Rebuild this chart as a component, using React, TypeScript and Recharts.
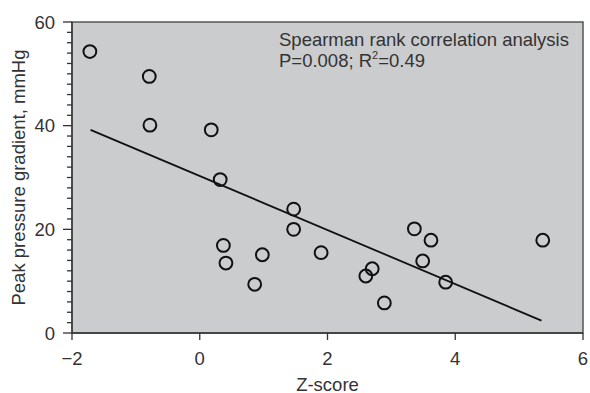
import React from "react";
import {
  ScatterChart,
  Scatter,
  XAxis,
  YAxis,
  ReferenceArea,
  ReferenceLine,
} from "recharts";

// one entry per patient: Z-score vs peak pressure gradient (mmHg)
const zScore = [
  -1.72, -0.79, -0.78, 0.18, 0.32, 0.37, 0.41, 0.98, 0.86, 1.47, 1.47, 1.9,
  3.36, 3.62, 5.37, 3.49, 2.7, 2.6, 2.89, 3.85,
];
const peakGradient = [
  54.3, 49.5, 40.1, 39.2, 29.6, 16.9, 13.5, 15.1, 9.4, 23.9, 20.0, 15.5, 20.1,
  17.9, 17.9, 13.9, 12.4, 11.0, 5.8, 9.8,
];

// end points of the fitted line
const fitX = [-1.71, 5.35];
const fitY = [39.2, 2.4];

const xTicks = [-2, 0, 2, 4, 6];
const yTicks = [
  0, 2, 4, 6, 8, 10, 12, 14, 16, 18, 20, 22, 24, 26, 28, 30, 32, 34, 36, 38,
  40, 42, 44, 46, 48, 50, 52, 54, 56, 58, 60,
];
const yLabelled = [0, 20, 40, 60];

const FONT = '"Liberation Sans", Arial, Helvetica, sans-serif';
const TEXT = "#333";

const points = zScore.map((z, i) => ({ z, g: peakGradient[i] }));

const YTick = (props: any) => {
  const { x, y, payload } = props;
  const major = yLabelled.includes(payload.value);
  return (
    <g>
      <line
        x1={x - (major ? 9 : 5)}
        x2={x}
        y1={y}
        y2={y}
        stroke="#333"
        strokeWidth={1.3}
      />
      {major && (
        <text
          x={x - 17}
          y={y}
          textAnchor="end"
          dominantBaseline="central"
          fontFamily={FONT}
          fontSize={18.5}
          fill={TEXT}
        >
          {payload.value}
        </text>
      )}
    </g>
  );
};

const YTitle = (props: any) => {
  const vb = props.viewBox;
  const x = vb.x + 18;
  const y = vb.y + vb.height / 2;
  return (
    <text
      x={x}
      y={y}
      transform={`rotate(-90 ${x} ${y})`}
      textAnchor="middle"
      dominantBaseline="central"
      fontFamily={FONT}
      fontSize={18.5}
      fill={TEXT}
    >
      Peak pressure gradient, mmHg
    </text>
  );
};

const XTitle = (props: any) => {
  const vb = props.viewBox;
  return (
    <text
      x={vb.x + vb.width / 2}
      y={vb.y + 51}
      textAnchor="middle"
      dominantBaseline="central"
      fontFamily={FONT}
      fontSize={18.5}
      fill={TEXT}
    >
      Z-score
    </text>
  );
};

const Annotation = (props: any) => {
  const vb = props.viewBox;
  const x = vb.x + 207;
  return (
    <g fontFamily={FONT} fontSize={18.5} fill={TEXT}>
      <text x={x} y={vb.y + 24}>
        Spearman rank correlation analysis
      </text>
      <text x={x} y={vb.y + 44.5}>
        P=0.008; R<tspan fontSize={11} dy={-8}>2</tspan>
        <tspan dy={8}>=0.49</tspan>
      </text>
    </g>
  );
};

const Ring = (props: any) => (
  <circle
    cx={props.cx}
    cy={props.cy}
    r={6.4}
    fill="none"
    stroke="#111"
    strokeWidth={2}
  />
);

export default function App() {
  return (
    <div style={{ position: "absolute", left: 0, top: 0 }}>
      <ScatterChart
        width={590}
        height={393}
        margin={{ top: 22, right: 7, bottom: 0, left: 0 }}
      >
        <XAxis
          dataKey="z"
          type="number"
          domain={[-2, 6]}
          ticks={xTicks}
          interval={0}
          tickSize={7}
          tickMargin={12}
          height={60}
          stroke="#333"
          strokeWidth={1.3}
          tick={{ fontFamily: FONT, fontSize: 18.5, fill: TEXT }}
          tickFormatter={(v: number) => String(v).replace("-", "\u2212")}
          label={<XTitleWrap />}
        />
        <YAxis
          dataKey="g"
          type="number"
          domain={[0, 60]}
          ticks={yTicks}
          interval={0}
          width={72}
          tickSize={0}
          tickMargin={0}
          tickLine={false}
          stroke="#333"
          strokeWidth={1.3}
          tick={<YTick />}
          label={<YTitleWrap />}
        />
        <ReferenceArea
          x1={-2}
          x2={6}
          y1={0}
          y2={60}
          fill="#cbccce"
          fillOpacity={1}
          stroke="#555"
          strokeWidth={1.5}
          label={Annotation}
        />
        <ReferenceLine
          segment={[
            { x: fitX[0], y: fitY[0] },
            { x: fitX[1], y: fitY[1] },
          ]}
          stroke="#111"
          strokeWidth={1.8}
        />
        <Scatter data={points} shape={Ring} isAnimationActive={false} />
      </ScatterChart>
    </div>
  );
}

function XTitleWrap(props: any) {
  return <XTitle {...props} />;
}

function YTitleWrap(props: any) {
  return <YTitle {...props} />;
}
